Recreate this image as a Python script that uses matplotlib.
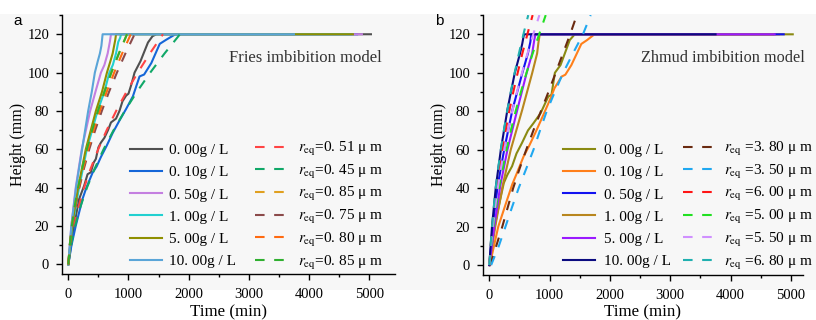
import matplotlib
matplotlib.use("Agg")
import matplotlib.pyplot as plt
from matplotlib.patches import Rectangle

plt.rcParams['font.family'] = ['Liberation Serif', 'DejaVu Serif']
plt.rcParams['mathtext.fontset'] = 'stix'

# ---------------- Panel a data (Fries) ----------------
a_labels = ["0. 00g / L", "0. 10g / L", "0. 50g / L", "1. 00g / L", "5. 00g / L", "10. 00g / L"]
a_colors = ["#505050", "#1566d8", "#c47fe0", "#22d0d0", "#8f8f00", "#5aa5d8"]
a_t = [
    [0, 28, 95, 179, 263, 320, 374, 420, 458, 500, 542, 600, 660, 709, 793, 850, 900, 961, 1000, 1050, 1101, 1200, 1324, 1400, 1464, 5030],
    [0, 50, 123, 235, 300, 402, 470, 542, 640, 737, 850, 960, 1073, 1184, 1260, 1380, 1520, 1620, 1780, 4800],
    [0, 50, 123, 223, 363, 460, 542, 600, 654, 690, 709, 4880],
    [0, 67, 179, 307, 486, 600, 682, 740, 793, 830, 860, 877, 4700],
    [0, 61, 162, 290, 458, 560, 642, 700, 737, 780, 793, 4730],
    [0, 50, 128, 229, 330, 390, 441, 490, 525, 550, 570, 3750],
]
a_h = [
    [0, 6, 20, 34, 41, 47, 48, 53, 55, 61, 63.5, 66, 70, 74, 76, 80, 85, 88, 89, 94, 100, 106, 115.7, 119, 120, 120],
    [0, 9.5, 20, 34, 40, 47.7, 51, 56, 62, 68.5, 75, 81, 87.6, 98, 99, 105, 115, 117, 120, 120],
    [0, 20, 40, 60, 80, 91, 100, 104, 110, 116, 120, 120],
    [0, 20, 40, 60, 80, 90, 100, 104, 110, 116, 118, 120, 120],
    [0, 20, 40, 60, 80, 90, 100, 106, 110, 117, 120, 120],
    [0, 20, 40, 60, 80, 90, 100, 106, 110, 114, 120, 120],
]
a_model_labels = [r"$r_{\mathrm{eq}}$=0. 51 μ m", r"$r_{\mathrm{eq}}$=0. 45 μ m", r"$r_{\mathrm{eq}}$=0. 85 μ m",
                  r"$r_{\mathrm{eq}}$=0. 75 μ m", r"$r_{\mathrm{eq}}$=0. 80 μ m", r"$r_{\mathrm{eq}}$=0. 85 μ m"]
a_model_colors = ["#ff4444", "#10a868", "#e0a020", "#8b4a4a", "#ff6a10", "#30b030"]
a_model_h = [0, 10, 20, 30, 40, 50, 60, 70, 80, 90, 100, 110, 120]
a_model_t = [
    [0, 38, 95, 170, 263, 372, 497, 638, 795, 967, 1154, 1356, 1573],
    [0, 45, 112, 201, 310, 439, 586, 753, 938, 1141, 1362, 1600, 1856],
    [0, 24, 59, 105, 163, 231, 308, 396, 493, 600, 715, 841, 975],
    [0, 27, 67, 119, 184, 260, 348, 447, 557, 677, 808, 949, 1101],
    [0, 25, 63, 112, 174, 246, 328, 421, 525, 638, 762, 895, 1038],
    [0, 24, 59, 105, 163, 231, 308, 396, 493, 600, 715, 841, 975],
]

# ---------------- Panel b data (Zhmud) ----------------
b_labels = ["0. 00g / L", "0. 10g / L", "0. 50g / L", "1. 00g / L", "5. 00g / L", "10. 00g / L"]
b_colors = ["#8a8a12", "#ff7f1a", "#1212f0", "#b8861e", "#9a1aff", "#0b0b80"]
b_t = [
    [0, 49, 131, 240, 300, 377, 450, 541, 640, 732, 850, 978, 1030, 1087, 1180, 1251, 1333, 1415, 5030],
    [0, 49, 148, 295, 380, 459, 568, 660, 760, 880, 1005, 1080, 1197, 1260, 1360, 1525, 1620, 1743, 4800],
    [0, 55, 137, 246, 383, 546, 639, 680, 694, 4880],
    [0, 98, 219, 355, 546, 710, 792, 815, 836, 4700],
    [0, 82, 180, 300, 464, 617, 710, 745, 765, 4730],
    [0, 44, 109, 191, 300, 421, 508, 545, 574, 3750],
]
b_h = [
    [0, 13, 27, 42.7, 47, 51.4, 58, 63.5, 70, 73.8, 79, 87.7, 88.5, 100, 104, 110, 117, 120, 120],
    [0, 6, 20, 34, 42, 48, 56.5, 62, 68.6, 77, 86, 92, 98, 99, 104, 115, 117, 120, 120],
    [0, 20, 41, 60, 80.8, 99.8, 110, 116, 120, 120],
    [0, 20, 41, 60, 80.8, 99.8, 110, 116, 120, 120],
    [0, 20, 41, 60, 80.8, 99.8, 110, 117, 120, 120],
    [0, 20, 41, 60, 80.8, 99.8, 110, 115, 120, 120],
]
b_model_labels = [r"$r_{\mathrm{eq}}$ =3. 80 μ m", r"$r_{\mathrm{eq}}$ =3. 50 μ m", r"$r_{\mathrm{eq}}$ =6. 00 μ m",
                  r"$r_{\mathrm{eq}}$ =5. 00 μ m", r"$r_{\mathrm{eq}}$ =5. 50 μ m", r"$r_{\mathrm{eq}}$ =6. 80 μ m"]
b_model_colors = ["#6a2a10", "#20a8f0", "#ff1515", "#22e022", "#d090ff", "#20b0b0"]
b_model_h = [0, 10, 20, 30, 40, 50, 60, 70, 80, 90, 100, 110, 120, 130]
b_model_t = [
    [15, 115, 215, 305, 395, 500, 612, 730, 855, 980, 1100, 1220, 1340, 1450],
    [30, 158, 268, 375, 486, 610, 732, 840, 951, 1085, 1224, 1385, 1552, 1680],
    [0, 22, 50, 82, 120, 165, 215, 270, 330, 397, 470, 547, 630, 718],
    [0, 29, 66, 110, 160, 220, 285, 357, 436, 523, 617, 718, 826, 935],
    [0, 26, 58, 96, 140, 190, 247, 310, 380, 458, 542, 632, 728, 830],
    [0, 20, 45, 73, 105, 145, 190, 240, 295, 355, 420, 490, 565, 645],
]

W, H = 816, 320
fig = plt.figure(figsize=(W / 100, H / 100), dpi=100)
fig.patches.append(Rectangle((0, 30 / H), 1, (290 - 14) / H, transform=fig.transFigure,
                             facecolor="#f7f7f7", edgecolor="none", zorder=-10))

def px_axes(l, r, t, b):
    return fig.add_axes([l / W, 1 - b / H, (r - l) / W, (b - t) / H])

ax_a = px_axes(61.7, 395, 14.7, 274.3)
ax_b = px_axes(482.7, 803, 14.7, 274.7)

dash = (0, (4.6, 4.6))

def style(ax, xlim, ylim):
    ax.set_facecolor("none")
    ax.set_xlim(*xlim)
    ax.set_ylim(*ylim)
    for s in ["top", "right"]:
        ax.spines[s].set_visible(False)
    for s in ["left", "bottom"]:
        ax.spines[s].set_linewidth(1.0)
    ax.set_xticks([0, 1000, 2000, 3000, 4000, 5000])
    ax.set_xticks([500, 1500, 2500, 3500, 4500], minor=True)
    ax.set_yticks([0, 20, 40, 60, 80, 100, 120])
    ax.set_yticks([10, 30, 50, 70, 90, 110, 130], minor=True)
    ax.tick_params(which="major", direction="out", length=4.5, width=1.0, labelsize=10.5)
    ax.tick_params(axis="x", which="major", pad=5.5)
    ax.tick_params(axis="y", which="major", pad=4.5)
    ax.tick_params(which="minor", direction="out", length=2.5, width=1.0)
    ax.set_xlabel("Time (min)", fontsize=12.2, labelpad=2.2)
    ax.set_ylabel("Height (mm)", fontsize=11.5, labelpad=1)

def draw(ax, labels, colors, ts, hs, mlabels, mcolors, mts, mh):
    solid, dashed = [], []
    for lab, c, t, h in zip(labels, colors, ts, hs):
        ln, = ax.plot(t, h, color=c, lw=1.5, label=lab, solid_joinstyle="round")
        solid.append(ln)
    for lab, c, t in zip(mlabels, mcolors, mts):
        ln, = ax.plot(t, mh, color=c, lw=1.5, ls=dash, label=lab)
        dashed.append(ln)
    return solid, dashed

sa, da = draw(ax_a, a_labels, a_colors, a_t, a_h, a_model_labels, a_model_colors, a_model_t, a_model_h)
sb, db = draw(ax_b, b_labels, b_colors, b_t, b_h, b_model_labels, b_model_colors, b_model_t, b_model_h)

style(ax_a, (-110, 5430), (-5.2, 130.2))
style(ax_b, (-110, 5200), (-5.0, 130.2))

ymid = 1 - 205.8 / H

def col_legend(handles, x_left, pad, spacing):
    leg = fig.legend(handles=handles, loc="center left", bbox_to_anchor=(x_left / W, ymid),
                     bbox_transform=fig.transFigure, frameon=False, fontsize=11,
                     handlelength=2.1, handletextpad=pad, labelspacing=spacing,
                     borderpad=0, borderaxespad=0)
    return leg

col_legend(sa, 129.5, 0.5, 0.56)
col_legend(da, 255, 0.72, 0.31)
col_legend(sb, 562.7, 0.6, 0.56)
col_legend(db, 683.3, 0.55, 0.31)

fig.text(382 / W, 1 - 58 / H, "Fries imbibition model", ha="right", va="center", fontsize=12, color="#333333")
fig.text(805 / W, 1 - 58 / H, "Zhmud imbibition model", ha="right", va="center", fontsize=11.7, color="#333333")

fig.text(18 / W, 1 - 21 / H, "a", ha="center", va="center", fontsize=11, family="Liberation Sans")
fig.text(439 / W, 1 - 21 / H, "b", ha="center", va="center", fontsize=11, family="Liberation Sans")

fig.savefig("out.png", dpi=100)
